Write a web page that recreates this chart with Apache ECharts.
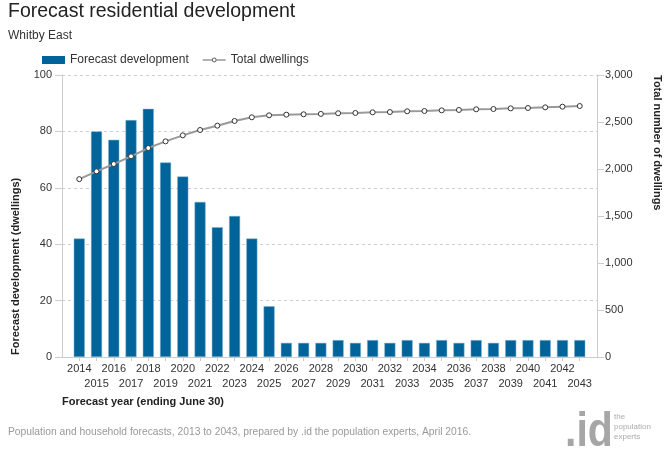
<!DOCTYPE html>
<html>
<head>
<meta charset="utf-8">
<script src="https://cdn.jsdelivr.net/npm/echarts@6/dist/echarts.min.js"></script>
<style>
html,body{margin:0;padding:0;background:#fff;}
#chart{width:666px;height:450px;}
</style>
</head>
<body>
<div id="chart"></div>
<script>
var years = [2014,2015,2016,2017,2018,2019,2020,2021,2022,2023,2024,2025,2026,2027,2028,2029,2030,2031,2032,2033,2034,2035,2036,2037,2038,2039,2040,2041,2042,2043];
var development = [42,80,77,84,88,69,64,55,46,50,42,18,5,5,5,6,5,6,5,6,5,6,5,6,5,6,6,6,6,6];
var dwellings = [1892,1975,2053,2135,2223,2294,2358,2415,2461,2511,2550,2571,2578,2582,2586,2593,2596,2603,2606,2614,2617,2624,2628,2635,2638,2645,2649,2656,2663,2670];
var leftTicks = [0,20,40,60,80,100];
var rightTicks = [0,500,1000,1500,2000,2500,3000];

var FONT = 'Liberation Sans, Arial, sans-serif';
var chart = echarts.init(document.getElementById('chart'), null, {renderer:'canvas'});

function pairs(xs, ys){ return xs.map(function(x,i){ return [x, ys[i]]; }); }

var lineIcon = 'path://M0,0h0.01v0.01h-0.01z M23,8h0.01v0.01h-0.01z M0,3.5h9.5v1h-9.5z M13.5,3.5h9.5v1h-9.5z M11.5,1.6a2.4,2.4 0 1,1 -0.001,0z M11.5,2.6a1.4,1.4 0 1,0 0.001,0z';

var option = {
  animation: false,
  textStyle: {fontFamily: FONT},
  title: [
    {text: 'Forecast residential development', left: 8, top: 2, padding: 0,
     textStyle: {fontSize: 19.5, fontWeight: 'normal', color: '#222', fontFamily: FONT}},
    {text: 'Whitby East', left: 8, top: 30, padding: 0,
     textStyle: {fontSize: 12, fontWeight: 'normal', color: '#333', fontFamily: FONT}}
  ],
  legend: {
    left: 42, top: 54, padding: 0, itemGap: 14, itemWidth: 23, itemHeight: 8,
    textStyle: {fontSize: 12, color: '#333', fontFamily: FONT},
    data: [
      {name: 'Forecast development', icon: 'rect', itemStyle: {color: '#00639a', borderWidth: 0}},
      {name: 'Total dwellings', icon: lineIcon, itemStyle: {color: '#666', borderWidth: 0}}
    ]
  },
  grid: {left: 62, right: 69, top: 75, bottom: 93, containLabel: false},
  xAxis: {
    type: 'value', min: 2013, max: 2044, interval: 1,
    axisLine: {show: true, lineStyle: {color: '#ccc'}},
    axisTick: {show: true, length: 4, lineStyle: {color: '#ccc'}},
    splitLine: {show: false},
    axisLabel: {
      fontSize: 11, color: '#333', margin: 4, lineHeight: 15, fontFamily: FONT,
      showMinLabel: false, showMaxLabel: false,
      formatter: function(v){
        if (years.indexOf(v) < 0) return '';
        return (v % 2 === 0) ? String(v) : '\n' + v;
      }
    }
  },
  yAxis: [
    {
      type: 'value', min: leftTicks[0], max: leftTicks[leftTicks.length-1], interval: 20,
      axisLine: {show: true, lineStyle: {color: '#ccc'}},
      axisTick: {show: true, length: 7, lineStyle: {color: '#ccc'}},
      axisLabel: {fontSize: 11, color: '#333', margin: 10, fontFamily: FONT},
      splitLine: {show: true, lineStyle: {color: '#d0d0d0', type: [3,3]}}
    },
    {
      type: 'value', min: rightTicks[0], max: rightTicks[rightTicks.length-1], interval: 500,
      position: 'right',
      axisLine: {show: true, lineStyle: {color: '#ccc'}},
      axisTick: {show: true, length: 7, lineStyle: {color: '#ccc'}},
      axisLabel: {fontSize: 11, color: '#333', margin: 8, fontFamily: FONT,
        formatter: function(v){ return v.toLocaleString('en-US'); }},
      splitLine: {show: false}
    }
  ],
  series: [
    {
      name: 'Forecast development', type: 'bar', yAxisIndex: 0, barWidth: 11,
      itemStyle: {color: '#00639a', borderColor: '#7fb0cd', borderWidth: 0.5},
      data: pairs(years, development)
    },
    {
      name: 'Total dwellings', type: 'line', yAxisIndex: 1,
      symbol: 'circle', symbolSize: 5, showSymbol: true,
      lineStyle: {color: '#999', width: 2},
      itemStyle: {color: '#fff', borderColor: '#333', borderWidth: 1},
      data: pairs(years, dwellings),
      z: 3
    }
  ],
  graphic: [
    {type: 'text', x: 16, y: 355, rotation: Math.PI/2,
     style: {text: 'Forecast development (dwellings)', font: 'bold 11px ' + FONT, fill: '#222', textAlign: 'left', textVerticalAlign: 'middle'}},
    {type: 'text', x: 657, y: 75, rotation: -Math.PI/2,
     style: {text: 'Total number of dwellings', font: 'bold 11px ' + FONT, fill: '#222', textAlign: 'left', textVerticalAlign: 'middle'}},
    {type: 'text', x: 62, y: 402,
     style: {text: 'Forecast year (ending June 30)', font: 'bold 11px ' + FONT, fill: '#222', textAlign: 'left', textVerticalAlign: 'middle'}},
    {type: 'text', x: 8, y: 432,
     style: {text: 'Population and household forecasts, 2013 to 2043, prepared by .id the population experts, April 2016.', font: '10.3px ' + FONT, fill: '#999', textAlign: 'left', textVerticalAlign: 'middle'}},
    {type: 'text', x: 565, y: 457, scaleY: 1.18,
     style: {text: '.id', font: 'bold 41px ' + FONT, fill: '#a6a6a6', textAlign: 'left', textVerticalAlign: 'bottom'}},
    {type: 'text', x: 614, y: 412,
     style: {text: 'the\npopulation\nexperts', font: '8px ' + FONT, lineHeight: 10, fill: '#aaa', textAlign: 'left', textVerticalAlign: 'top'}}
  ]
};
chart.setOption(option);
</script>
</body>
</html>
